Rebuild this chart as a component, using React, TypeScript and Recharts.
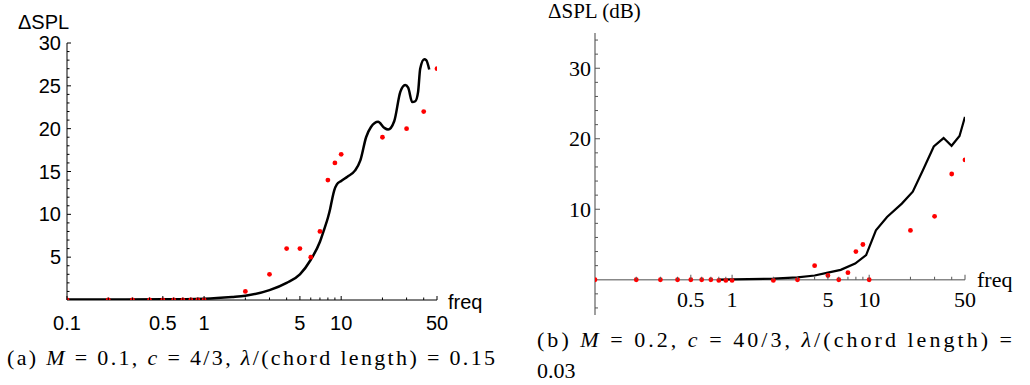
import React from 'react';
import { ComposedChart, Line, Scatter, XAxis, YAxis, ReferenceLine } from 'recharts';

// ---- panel (a): M = 0.1 ----
const aLineFreq = [0.1, 0.5, 1, 1.6, 2, 3, 4, 5, 6, 7, 7.5, 8, 8.3, 8.6, 8.9, 9.3, 10, 11.1, 12.6, 13.8, 15.2, 16.5, 18.6, 20.6, 22, 24.4, 27, 29.3, 30.8, 33, 34.7, 36.4, 37.7, 40.4, 41.7, 43.9];
const aLineSpl = [0.05, 0.08, 0.15, 0.35, 0.5, 1.15, 2.0, 3.0, 4.7, 6.8, 8.2, 9.6, 10.6, 11.8, 12.8, 13.5, 13.9, 14.4, 15.1, 16.3, 19.0, 20.2, 20.8, 20.1, 19.9, 20.9, 24.3, 25.1, 24.8, 23.1, 23.2, 24.3, 27.0, 28.1, 28.0, 26.9];
const aDotFreq = [0.1, 0.2, 0.3, 0.4, 0.5, 0.6, 0.7, 0.8, 0.9, 1, 2, 3, 4, 5, 6, 7, 8, 9, 10, 20, 30, 40, 50];
const aDotSpl = [0, 0, 0, 0, 0, 0, 0, 0, 0, 0, 1, 3, 6, 6, 5, 8, 14, 16, 17, 19, 20, 22, 27];
const aXTicks = [0.1, 0.2, 0.3, 0.4, 0.5, 0.6, 0.7, 0.8, 0.9, 1, 2, 3, 4, 5, 6, 7, 8, 9, 10, 20, 30, 40, 50];
const aXLabels = [0.1, 0.5, 1, 5, 10, 50];
const aYTicks = [1, 2, 3, 4, 5, 6, 7, 8, 9, 10, 11, 12, 13, 14, 15, 16, 17, 18, 19, 20, 21, 22, 23, 24, 25, 26, 27, 28, 29, 30];
const aYLabels = [5, 10, 15, 20, 25, 30];

// ---- panel (b): M = 0.2 ----
const bLineFreq = [0.8, 1, 2, 3, 4, 5, 6.2, 7.9, 9.5, 11.2, 13.5, 17.3, 20.8, 24.6, 29.6, 34.9, 39.9, 45.6, 50];
const bLineSpl = [0.02, 0.05, 0.15, 0.35, 0.6, 1.0, 1.4, 2.3, 3.5, 7.0, 8.9, 10.8, 12.5, 15.5, 18.9, 20.1, 19.0, 20.4, 23.1];
const bDotFreq = [0.1, 0.2, 0.3, 0.4, 0.5, 0.6, 0.7, 0.8, 0.9, 1, 2, 3, 4, 5, 6, 7, 8, 9, 10, 20, 30, 40, 50];
const bDotSpl = [0, 0, 0, 0, 0, 0, 0, -0.1, -0.1, -0.1, -0.1, 0, 2, 0.6, 0, 1, 4, 5, 0, 7, 9, 15, 17];
const bXTicks = [0.2, 0.3, 0.4, 0.5, 0.6, 0.7, 0.8, 0.9, 1, 2, 3, 4, 5, 6, 7, 8, 9, 10, 20, 30, 40, 50];
const bXLabels = [0.5, 1, 5, 10, 50];
const bYTicks = [-4, -2, 2, 4, 6, 8, 10, 12, 14, 16, 18, 20, 22, 24, 26, 28, 30, 32, 34];
const bYLabels = [10, 20, 30];

const zip = (xs: number[], ys: number[]) => xs.map((f, i) => ({ f, v: ys[i] }));

const H = 385;
const AXIS_W = 40; // y axis box width
const AXIS_H = 30; // x axis box height

// right panel plot geometry (y axis runs -5..35, x axis drawn at 0)
const B_TOP = 33;
const B_BOTTOM = 70;
const B_YMIN = -5;
const B_YMAX = 35;
const bZeroOffset = ((H - B_TOP - B_BOTTOM) * (0 - B_YMIN)) / (B_YMAX - B_YMIN);

const SANS = 'Liberation Sans';
const SERIF = 'Times New Roman';

const redDot = (p: any) => <circle cx={p.cx} cy={p.cy} r={2.4} fill="#ff0000" />;

const AXTick = (props: any) => {
  const { x, y, payload } = props;
  const major = aXLabels.includes(payload.value);
  return (
    <g>
      <line x1={x} x2={x} y1={y} y2={y - (major ? 4 : 2.5)} stroke="#000" strokeWidth={1} />
      {major && (
        <text x={x} y={y + 30} textAnchor="middle" fontFamily={SANS} fontSize={20} fill="#000">
          {String(payload.value)}
        </text>
      )}
    </g>
  );
};

const AYTick = (props: any) => {
  const { x, y, payload } = props;
  const major = aYLabels.includes(payload.value);
  return (
    <g>
      <line x1={x} x2={x + (major ? 4 : 2.5)} y1={y} y2={y} stroke="#000" strokeWidth={1} />
      {major && (
        <text x={x - 6} y={y + 7} textAnchor="end" fontFamily={SANS} fontSize={20} fill="#000">
          {String(payload.value)}
        </text>
      )}
    </g>
  );
};

const BXTick = (props: any) => {
  const { x, y, payload } = props;
  const y0 = y - bZeroOffset;
  const major = bXLabels.includes(payload.value);
  return (
    <g>
      <line x1={x} x2={x} y1={y0} y2={y0 - (major ? 5 : 3)} stroke="#555" strokeWidth={1} />
      {major && (
        <text x={x} y={y0 + 27} textAnchor="middle" fontFamily={SERIF} fontSize={22} fill="#000">
          {String(payload.value)}
        </text>
      )}
    </g>
  );
};

const BYTick = (props: any) => {
  const { x, y, payload } = props;
  const major = bYLabels.includes(payload.value);
  return (
    <g>
      <line x1={x} x2={x + (major ? 5 : 3)} y1={y} y2={y} stroke="#555" strokeWidth={1} />
      {major && (
        <text x={x - 4} y={y + 7.5} textAnchor="end" fontFamily={SERIF} fontSize={22} fill="#000">
          {String(payload.value)}
        </text>
      )}
    </g>
  );
};

export default function App() {
  return (
    <div style={{ position: 'absolute', left: 0, top: 0, width: 1030, height: H, background: '#fff' }}>
      <div style={{ position: 'absolute', left: 0, top: 0 }}>
        <ComposedChart
          width={520}
          height={H}
          margin={{ top: 43, right: 83, bottom: 85 - AXIS_H, left: 67 - AXIS_W }}
        >
          <XAxis
            dataKey="f"
            type="number"
            scale="log"
            domain={[0.1, 50]}
            allowDataOverflow
            ticks={aXTicks}
            interval={0}
            height={AXIS_H}
            tickSize={0}
            tickMargin={0}
            tick={<AXTick />}
            axisLine={{ stroke: '#000', strokeWidth: 1 }}
          />
          <YAxis
            type="number"
            domain={[0, 30]}
            allowDataOverflow
            ticks={aYTicks}
            interval={0}
            width={AXIS_W}
            tickSize={0}
            tickMargin={0}
            tick={<AYTick />}
            axisLine={{ stroke: '#000', strokeWidth: 1 }}
          />
          <Line
            data={zip(aLineFreq, aLineSpl)}
            dataKey="v"
            type="monotone"
            stroke="#000"
            strokeWidth={2.5}
            dot={false}
            isAnimationActive={false}
          />
          <Scatter data={zip(aDotFreq, aDotSpl)} dataKey="v" shape={redDot} isAnimationActive={false} />
        </ComposedChart>
      </div>
      <div style={{ position: 'absolute', left: 520, top: 0 }}>
        <ComposedChart
          width={510}
          height={H}
          margin={{ top: B_TOP, right: 65, bottom: B_BOTTOM - AXIS_H, left: 75 - AXIS_W }}
        >
          <XAxis
            dataKey="f"
            type="number"
            scale="log"
            domain={[0.1, 50]}
            allowDataOverflow
            ticks={bXTicks}
            interval={0}
            height={AXIS_H}
            tickSize={0}
            tickMargin={0}
            tick={<BXTick />}
            axisLine={false}
          />
          <YAxis
            type="number"
            domain={[B_YMIN, B_YMAX]}
            allowDataOverflow
            ticks={bYTicks}
            interval={0}
            width={AXIS_W}
            tickSize={0}
            tickMargin={0}
            tick={<BYTick />}
            axisLine={{ stroke: '#888', strokeWidth: 1.6 }}
          />
          <ReferenceLine y={0} stroke="#888" strokeWidth={1.6} />
          <Line
            data={zip(bLineFreq, bLineSpl)}
            dataKey="v"
            type="linear"
            stroke="#000"
            strokeWidth={2.2}
            dot={false}
            isAnimationActive={false}
          />
          <Scatter data={zip(bDotFreq, bDotSpl)} dataKey="v" shape={redDot} isAnimationActive={false} />
        </ComposedChart>
      </div>
      <svg
        width={1030}
        height={H}
        style={{ position: 'absolute', left: 0, top: 0, pointerEvents: 'none' }}
      >
        <text x={18} y={29} fontFamily={SANS} fontSize={20} fill="#000">ΔSPL</text>
        <text x={448} y={309} fontFamily={SANS} fontSize={20} fill="#000">freq</text>
        <text x={548} y={18} fontFamily={SERIF} fontSize={21} fill="#000">ΔSPL (dB)</text>
        <text x={977} y={287} fontFamily={SERIF} fontSize={22} fill="#000">freq</text>
        <text x={7} y={365} fontFamily={SERIF} fontSize={22} fill="#000" textLength={488} lengthAdjust="spacing">
          (a) <tspan fontStyle="italic">M</tspan> = 0.1, <tspan fontStyle="italic">c</tspan> = 4/3,{' '}
          <tspan fontStyle="italic">λ</tspan>/(chord length) = 0.15
        </text>
        <text x={537} y={347} fontFamily={SERIF} fontSize={22} fill="#000" textLength={475} lengthAdjust="spacing">
          (b) <tspan fontStyle="italic">M</tspan> = 0.2, <tspan fontStyle="italic">c</tspan> = 40/3,{' '}
          <tspan fontStyle="italic">λ</tspan>/(chord length) =
        </text>
        <text x={537} y={378} fontFamily={SERIF} fontSize={22} fill="#000">0.03</text>
      </svg>
    </div>
  );
}
